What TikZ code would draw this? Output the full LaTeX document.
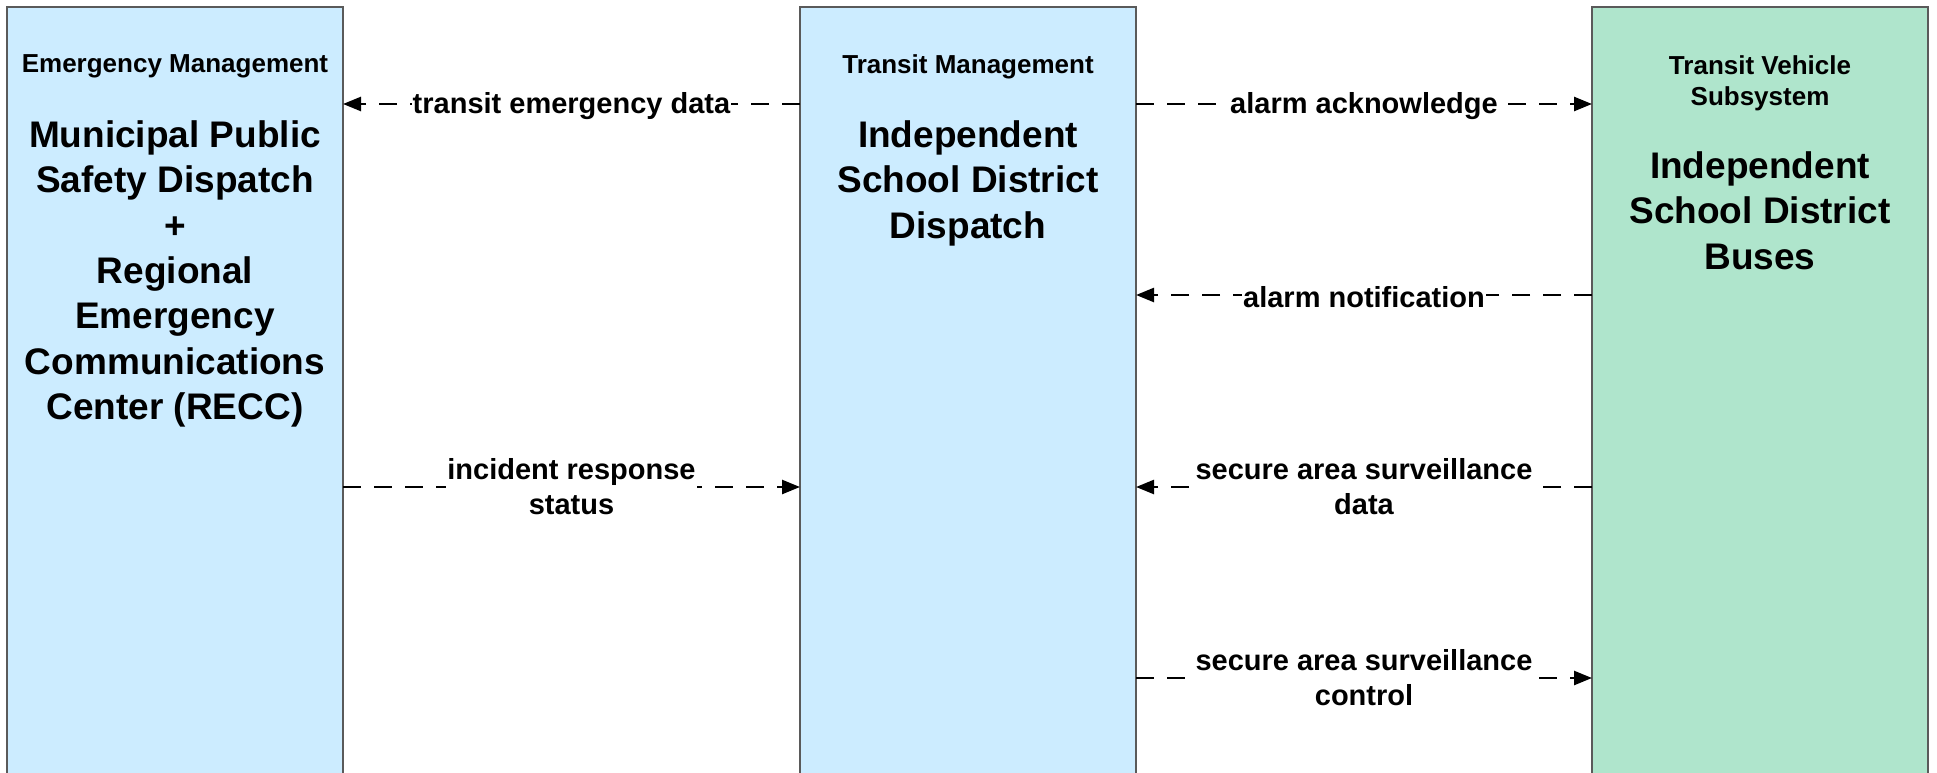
\documentclass[tikz,border=0pt]{standalone}
\usepackage{fontspec}
\setmainfont{Liberation Sans}
\usetikzlibrary{arrows.meta}
\definecolor{emblue}{RGB}{204,236,255}
\definecolor{tvgreen}{RGB}{175,229,204}
\definecolor{boxline}{RGB}{90,90,90}
\tikzset{
  sysbox/.style={draw=boxline, line width=1.5pt, anchor=north west, minimum width=336pt, minimum height=800pt, inner sep=0pt, outer sep=0pt},
  hdr/.style={anchor=north, inner sep=0pt, align=center, font=\fontsize{26}{31}\selectfont\bfseries},
  ttl/.style={anchor=north, inner sep=0pt, align=center, font=\fontsize{37}{45.3}\selectfont\bfseries},
  flow/.style={line width=2.5pt, dash pattern=on 18pt off 13pt, -{Triangle[length=18pt,width=14pt]}},
  lbl/.style={midway, fill=white, inner sep=1pt, align=center, font=\fontsize{29}{35}\selectfont\bfseries},
  lblone/.style={lbl, yshift=-2.5pt}
}
\begin{document}
\begin{tikzpicture}[x=1pt,y=-1pt]
\useasboundingbox (0,0) rectangle (1937,773);
\clip (0,0) rectangle (1937,773);
\fill[white] (0,0) rectangle (1937,773);
% boxes
\node[sysbox, fill=emblue] (b1) at (7,7) {};
\node[sysbox, fill=emblue] (b2) at (800,7) {};
\node[sysbox, fill=tvgreen] (b3) at (1592,7) {};
% texts
\node[hdr] (h1) at (175,54.5) {Emergency Management};
\node[ttl] (t1) at (175,120.5) {Municipal Public\\Safety Dispatch\\+\\Regional\\Emergency\\Communications\\Center (RECC)};
\node[hdr] (h2) at (968,54.5) {Transit Management};
\node[ttl] (t2) at (968,120.5) {Independent\\School District\\Dispatch};
\node[hdr] (h3) at (1760,55.5) {Transit Vehicle\\Subsystem};
\node[ttl] (t3) at (1760,151.5) {Independent\\School District\\Buses};
% flows
\draw[flow] ([yshift=-97pt]b2.north west) -- node[lblone]{transit emergency data} ([yshift=-97pt]b1.north east);
\draw[flow] ([yshift=-97pt]b2.north east) -- node[lblone]{alarm acknowledge} ([yshift=-97pt]b3.north west);
\draw[flow] ([yshift=-288pt]b3.north west) -- node[lblone]{alarm notification} ([yshift=-288pt]b2.north east);
\draw[flow] ([yshift=-480pt]b1.north east) -- node[lbl]{incident response\\status} ([yshift=-480pt]b2.north west);
\draw[flow] ([yshift=-480pt]b3.north west) -- node[lbl]{secure area surveillance\\data} ([yshift=-480pt]b2.north east);
\draw[flow] ([yshift=-671pt]b2.north east) -- node[lbl]{secure area surveillance\\control} ([yshift=-671pt]b3.north west);
\end{tikzpicture}
\end{document}
